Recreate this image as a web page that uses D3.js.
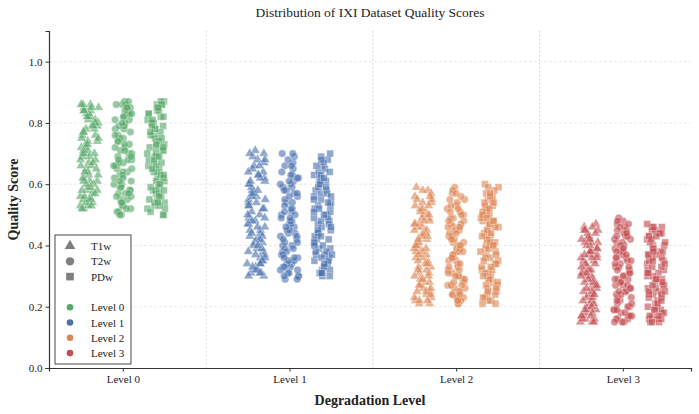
<!DOCTYPE html>
<html>
<head>
<meta charset="utf-8">
<script src="https://cdn.jsdelivr.net/npm/d3@7"></script>
<style>
  body { margin: 0; background: #fff; }
  text { font-family: "Liberation Serif", "DejaVu Serif", serif; fill: #222; }
</style>
</head>
<body>
<div id="chart"></div>
<script>
const levels = ["Level 0", "Level 1", "Level 2", "Level 3"];
const modalities = ["T1w", "T2w", "PDw"];
const yTicks = [0.0, 0.2, 0.4, 0.6, 0.8, 1.0];

// quality scores per level / modality
const level0_T1w = [0.53,0.61,0.72,0.84,0.58,0.67,0.79,0.55,0.70,0.82,0.63,0.76,0.52,0.85,0.68,0.59,0.74,0.81,0.57,0.65,0.78,0.86,0.54,0.71,0.62,0.83,0.69,0.56,0.77,0.64,0.80,0.60,0.73,0.53,0.85,0.66,0.75,0.58,0.82,0.70,0.55,0.79,0.63,0.84,0.67,0.57,0.72,0.61,0.86,0.76,0.54,0.69,0.81,0.59,0.74,0.65,0.83,0.56,0.78,0.62,0.71,0.52,0.80,0.68,0.58,0.75,0.85,0.64,0.73,0.60,0.82,0.55,0.77,0.66,0.84,0.53,0.70,0.79,0.61,0.86];
const level0_T2w = [0.51,0.64,0.78,0.86,0.57,0.70,0.83,0.53,0.67,0.75,0.60,0.87,0.72,0.55,0.81,0.63,0.50,0.76,0.68,0.85,0.58,0.73,0.62,0.80,0.52,0.69,0.84,0.56,0.77,0.65,0.59,0.82,0.71,0.54,0.79,0.66,0.86,0.61,0.74,0.51,0.68,0.83,0.57,0.72,0.64,0.87,0.55,0.78,0.60,0.70,0.85,0.53,0.75,0.63,0.81,0.58,0.67,0.50,0.84,0.73,0.62,0.79,0.56,0.69,0.86,0.52,0.76,0.65,0.82,0.59,0.71,0.54,0.80,0.66,0.85,0.61,0.74,0.57,0.83,0.68];
const level0_PDw = [0.52,0.66,0.80,0.58,0.73,0.86,0.55,0.69,0.62,0.84,0.76,0.50,0.71,0.59,0.82,0.65,0.54,0.78,0.87,0.61,0.74,0.57,0.68,0.83,0.53,0.79,0.64,0.72,0.85,0.56,0.70,0.60,0.81,0.67,0.51,0.77,0.63,0.86,0.58,0.75,0.69,0.54,0.83,0.66,0.72,0.61,0.80,0.52,0.74,0.87,0.59,0.68,0.78,0.55,0.64,0.84,0.71,0.57,0.76,0.62,0.82,0.50,0.70,0.65,0.86,0.53,0.73,0.79,0.60,0.67,0.85,0.56,0.75,0.63,0.81,0.58,0.69,0.77,0.54,0.72];
const level1_T1w = [0.31,0.45,0.62,0.38,0.55,0.70,0.34,0.49,0.66,0.41,0.58,0.30,0.52,0.68,0.36,0.47,0.61,0.43,0.56,0.33,0.64,0.39,0.50,0.71,0.35,0.54,0.46,0.60,0.32,0.42,0.67,0.48,0.57,0.37,0.63,0.44,0.53,0.30,0.69,0.40,0.59,0.34,0.51,0.65,0.38,0.47,0.56,0.31,0.62,0.43,0.54,0.36,0.70,0.49,0.58,0.33,0.45,0.66,0.41,0.52,0.35,0.60,0.44,0.57,0.32,0.48,0.68,0.39,0.55,0.42,0.63,0.37,0.50,0.46,0.61,0.34,0.53,0.40,0.64,0.31];
const level1_T2w = [0.30,0.44,0.59,0.36,0.52,0.67,0.33,0.48,0.63,0.40,0.56,0.29,0.70,0.46,0.38,0.61,0.34,0.50,0.65,0.42,0.57,0.31,0.47,0.69,0.37,0.54,0.43,0.60,0.32,0.49,0.66,0.39,0.55,0.45,0.62,0.35,0.51,0.30,0.58,0.41,0.68,0.33,0.47,0.64,0.38,0.53,0.44,0.59,0.31,0.50,0.36,0.62,0.42,0.56,0.34,0.70,0.48,0.40,0.57,0.32,0.45,0.63,0.37,0.52,0.30,0.60,0.43,0.54,0.35,0.66,0.46,0.39,0.58,0.33,0.51,0.41,0.61,0.29,0.49,0.36];
const level1_PDw = [0.32,0.47,0.63,0.39,0.55,0.69,0.35,0.50,0.66,0.42,0.58,0.30,0.53,0.44,0.61,0.37,0.68,0.48,0.33,0.57,0.41,0.64,0.36,0.52,0.45,0.60,0.31,0.49,0.67,0.38,0.56,0.43,0.62,0.34,0.51,0.70,0.40,0.59,0.46,0.32,0.54,0.65,0.37,0.48,0.58,0.30,0.44,0.61,0.39,0.53,0.35,0.66,0.47,0.41,0.57,0.33,0.50,0.63,0.38,0.45,0.55,0.31,0.60,0.42,0.52,0.36,0.68,0.49,0.34,0.56,0.40,0.62,0.46,0.31,0.54,0.43,0.59,0.37,0.51,0.64];
const level2_T1w = [0.22,0.36,0.51,0.28,0.44,0.58,0.25,0.39,0.54,0.31,0.47,0.21,0.42,0.56,0.27,0.38,0.50,0.33,0.46,0.24,0.53,0.30,0.41,0.59,0.26,0.45,0.35,0.49,0.23,0.40,0.55,0.32,0.48,0.29,0.52,0.37,0.43,0.21,0.57,0.34,0.47,0.25,0.39,0.54,0.28,0.44,0.31,0.50,0.23,0.41,0.36,0.58,0.27,0.46,0.33,0.52,0.24,0.38,0.49,0.30,0.43,0.22,0.55,0.35,0.45,0.26,0.40,0.51,0.29,0.37,0.56,0.32,0.48,0.25,0.42,0.34,0.53,0.22,0.39,0.47];
const level2_T2w = [0.23,0.35,0.50,0.29,0.43,0.57,0.26,0.38,0.53,0.31,0.46,0.21,0.41,0.55,0.27,0.37,0.49,0.32,0.45,0.24,0.52,0.30,0.40,0.59,0.25,0.44,0.34,0.48,0.22,0.39,0.54,0.33,0.47,0.28,0.51,0.36,0.42,0.21,0.56,0.30,0.46,0.24,0.38,0.53,0.27,0.43,0.32,0.49,0.23,0.41,0.35,0.58,0.26,0.45,0.31,0.50,0.25,0.37,0.48,0.29,0.42,0.22,0.55,0.34,0.44,0.27,0.39,0.52,0.28,0.36,0.47,0.24,0.40,0.33,0.57,0.30,0.46,0.22,0.38,0.51];
const level2_PDw = [0.22,0.37,0.52,0.29,0.45,0.59,0.26,0.40,0.55,0.32,0.48,0.21,0.43,0.57,0.28,0.39,0.51,0.34,0.47,0.24,0.54,0.31,0.42,0.60,0.27,0.46,0.36,0.50,0.23,0.41,0.56,0.33,0.49,0.30,0.53,0.38,0.44,0.22,0.58,0.35,0.48,0.25,0.40,0.55,0.29,0.45,0.32,0.51,0.24,0.42,0.37,0.59,0.28,0.47,0.34,0.53,0.26,0.39,0.50,0.31,0.44,0.23,0.56,0.36,0.46,0.27,0.41,0.52,0.30,0.38,0.57,0.33,0.49,0.25,0.43,0.35,0.54,0.21,0.40,0.48];
const level3_T1w = [0.16,0.28,0.41,0.21,0.35,0.46,0.19,0.31,0.43,0.24,0.38,0.15,0.33,0.45,0.20,0.30,0.40,0.26,0.37,0.17,0.42,0.23,0.32,0.47,0.18,0.36,0.27,0.39,0.16,0.31,0.44,0.25,0.38,0.22,0.41,0.29,0.34,0.15,0.46,0.26,0.37,0.19,0.30,0.43,0.21,0.35,0.24,0.40,0.17,0.32,0.28,0.45,0.20,0.36,0.25,0.42,0.18,0.29,0.39,0.23,0.34,0.16,0.44,0.27,0.36,0.19,0.31,0.41,0.22,0.28,0.45,0.24,0.38,0.17,0.33,0.26,0.42,0.15,0.30,0.37];
const level3_T2w = [0.16,0.29,0.43,0.22,0.36,0.48,0.19,0.32,0.45,0.25,0.39,0.15,0.34,0.47,0.20,0.30,0.42,0.27,0.38,0.17,0.44,0.23,0.33,0.49,0.18,0.37,0.28,0.41,0.16,0.31,0.46,0.26,0.40,0.21,0.43,0.29,0.35,0.15,0.48,0.24,0.38,0.19,0.31,0.44,0.22,0.36,0.25,0.41,0.17,0.33,0.27,0.46,0.20,0.37,0.26,0.42,0.18,0.30,0.40,0.23,0.34,0.16,0.45,0.28,0.35,0.19,0.32,0.39,0.21,0.27,0.47,0.24,0.38,0.17,0.33,0.25,0.43,0.15,0.29,0.36];
const level3_PDw = [0.16,0.30,0.42,0.21,0.35,0.46,0.18,0.32,0.44,0.25,0.38,0.15,0.33,0.45,0.20,0.29,0.40,0.27,0.37,0.17,0.43,0.23,0.31,0.47,0.19,0.36,0.28,0.39,0.16,0.31,0.44,0.24,0.38,0.22,0.41,0.29,0.34,0.15,0.46,0.26,0.37,0.19,0.30,0.43,0.21,0.35,0.24,0.40,0.17,0.32,0.27,0.45,0.20,0.36,0.25,0.42,0.18,0.28,0.39,0.23,0.33,0.16,0.44,0.26,0.35,0.19,0.31,0.41,0.22,0.27,0.46,0.24,0.37,0.17,0.34,0.25,0.43,0.15,0.29,0.38];

const levelColors = ["#55a868", "#4c72b0", "#dd8452", "#c44e52"];

const scores = [
  [level0_T1w, level0_T2w, level0_PDw],
  [level1_T1w, level1_T2w, level1_PDw],
  [level2_T1w, level2_T2w, level2_PDw],
  [level3_T1w, level3_T2w, level3_PDw],
];

const width = 699, height = 414;
const margin = { top: 31, right: 8, bottom: 46, left: 49 };

const svg = d3.select("#chart").append("svg")
  .attr("width", width).attr("height", height);

// categorical x positions as numbers so dodge / jitter can be added
const x = d3.scaleLinear().domain([-0.443, 3.409]).range([margin.left, width - margin.right]);
const y = d3.scaleLinear().domain([0, 1.1]).range([height - margin.bottom, margin.top]);

// horizontal grid
svg.append("g").selectAll("line").data(yTicks.slice(1)).join("line")
  .attr("x1", margin.left).attr("x2", width - margin.right)
  .attr("y1", d => y(d)).attr("y2", d => y(d))
  .attr("stroke", "#e4e4e4").attr("stroke-width", 0.8).attr("stroke-dasharray", "3,2");

// level separators
svg.append("g").selectAll("line").data([0.5, 1.5, 2.5]).join("line")
  .attr("x1", d => x(d)).attr("x2", d => x(d))
  .attr("y1", margin.top).attr("y2", height - margin.bottom)
  .attr("stroke", "#c8c8c8").attr("stroke-width", 0.9).attr("stroke-dasharray", "1.5,2.5");

// hash-based jitter (layout only, not data)
function jitter(i, mi, li) {
  const s = Math.sin(i * 12.9898 + mi * 78.233 + li * 37.719) * 43758.5453;
  return s - Math.floor(s) - 0.5;
}

const dodge = [-0.2, 0, 0.2];
const points = [];
scores.forEach((mods, li) => {
  mods.forEach((vals, mi) => {
    vals.forEach((v, i) => {
      points.push({ level: li, mod: mi, value: v, xpos: li + dodge[mi] + jitter(i, mi, li) * 0.11 });
    });
  });
});

const symbolTypes = [d3.symbolTriangle, d3.symbolCircle, d3.symbolSquare];
const symbolSizes = [40, 44, 48];

svg.append("g").selectAll("path").data(points).join("path")
  .attr("transform", d => `translate(${x(d.xpos)},${y(d.value)})`)
  .attr("d", d => d3.symbol().type(symbolTypes[d.mod]).size(symbolSizes[d.mod])())
  .attr("fill", d => levelColors[d.level])
  .attr("fill-opacity", 0.62)
  .attr("stroke", "#fff").attr("stroke-opacity", 0.7).attr("stroke-width", 0.5);

// axes
const xAxis = d3.axisBottom(x).tickValues([0, 1, 2, 3])
  .tickFormat(d => levels[d]).tickSize(3.5).tickPadding(4);
const gx = svg.append("g")
  .attr("transform", `translate(0,${height - margin.bottom})`)
  .call(xAxis);
gx.select(".domain").attr("stroke", "#333").attr("stroke-width", 1.2);

const yAxis = d3.axisLeft(y).tickValues(yTicks).tickFormat(d3.format(".1f"))
  .tickSize(3.5).tickPadding(3);
const gy = svg.append("g")
  .attr("transform", `translate(${margin.left},0)`)
  .call(yAxis);
gy.select(".domain").attr("stroke", "#333").attr("stroke-width", 1.2);

svg.selectAll(".tick text")
  .style("font-family", "'Liberation Serif', serif").style("font-size", "11px").attr("fill", "#222");
svg.selectAll(".tick line").attr("stroke", "#333");

// titles
svg.append("text")
  .attr("x", (margin.left + width - margin.right) / 2).attr("y", 17)
  .attr("text-anchor", "middle").style("font-size", "13.5px")
  .text("Distribution of IXI Dataset Quality Scores");

svg.append("text")
  .attr("x", (margin.left + width - margin.right) / 2).attr("y", 405)
  .attr("text-anchor", "middle").style("font-size", "14px").style("font-weight", "bold")
  .text("Degradation Level");

svg.append("text")
  .attr("transform", `translate(18,${(margin.top + height - margin.bottom) / 2}) rotate(-90)`)
  .attr("text-anchor", "middle").style("font-size", "14px").style("font-weight", "bold")
  .text("Quality Score");

// legend
const legend = svg.append("g").attr("transform", "translate(55,235)");
legend.append("rect")
  .attr("width", 76).attr("height", 129)
  .attr("fill", "#fff").attr("fill-opacity", 0.85)
  .attr("stroke", "#333").attr("stroke-width", 0.9);

const rowH = 15.3;
modalities.forEach((m, i) => {
  const row = legend.append("g").attr("transform", `translate(15,${11 + i * rowH})`);
  row.append("path")
    .attr("d", d3.symbol().type(symbolTypes[i]).size(symbolSizes[i] + 10)())
    .attr("fill", "#7f7f7f");
  row.append("text").attr("x", 21).attr("y", 4).style("font-size", "11px").text(m);
});
levels.forEach((l, i) => {
  const row = legend.append("g").attr("transform", `translate(15,${11 + (i + 4) * rowH})`);
  row.append("circle").attr("r", 3.3).attr("fill", levelColors[i]);
  row.append("text").attr("x", 21).attr("y", 4).style("font-size", "11px").text(l);
});
</script>
</body>
</html>
